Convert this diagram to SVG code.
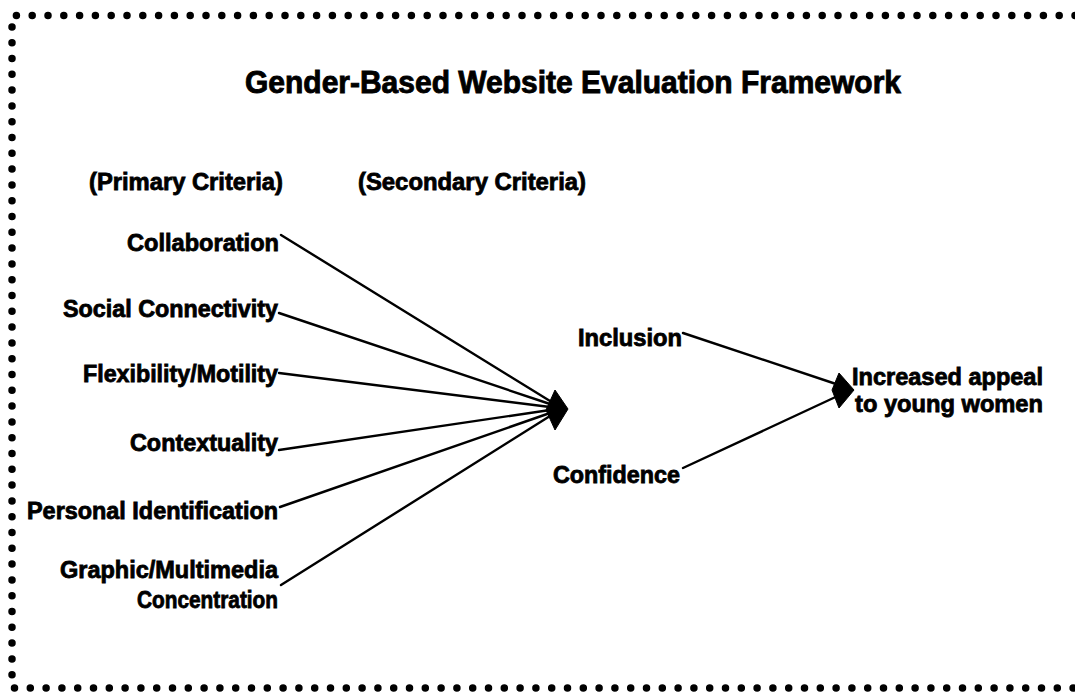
<svg xmlns="http://www.w3.org/2000/svg" width="1075" height="692" viewBox="0 0 1075 692">
  <style>
    .bg { fill: #ffffff; }
    .frame { fill: none; stroke: #000; stroke-width: 7.5; stroke-linecap: round; stroke-dasharray: 0 15.8; }
    .lbl { font-family: "Liberation Sans", Arial, sans-serif; font-weight: bold; font-size: 23px; fill: #000; stroke: #000; stroke-width: 0.8; }
    .title { font-size: 31px; stroke-width: 0.9; }
    .edge { fill: none; stroke: #000; stroke-width: 2.4; stroke-linecap: round; }
    .head { fill: #000; stroke: #000; stroke-width: 1; stroke-linejoin: round; }
  </style>

  <rect class="bg" x="0" y="0" width="1075" height="692"/>

  <!-- dotted frame (open on the right) -->
  <g id="frame">
    <path class="frame" d="M1075 15.5 H12 V688 H1075"/>
  </g>

  <g id="title">
    <text class="lbl title" x="573" y="93" text-anchor="middle" textLength="656" lengthAdjust="spacingAndGlyphs">Gender-Based Website Evaluation Framework</text>
  </g>

  <g id="headings">
    <text class="lbl" x="89" y="190" textLength="194" lengthAdjust="spacingAndGlyphs">(Primary Criteria)</text>
    <text class="lbl" x="358" y="190" textLength="228" lengthAdjust="spacingAndGlyphs">(Secondary Criteria)</text>
  </g>

  <!-- connectors -->
  <g id="connectors">
    <line class="edge" x1="281" y1="235" x2="550" y2="401"/>
    <line class="edge" x1="279" y1="313" x2="550" y2="404"/>
    <line class="edge" x1="279" y1="373" x2="550" y2="407"/>
    <line class="edge" x1="279" y1="450" x2="550" y2="410"/>
    <line class="edge" x1="280" y1="507" x2="550" y2="413"/>
    <line class="edge" x1="281" y1="585" x2="550" y2="416"/>
    <polygon class="head" points="546,410 555,390 568,409 555,430"/>

    <line class="edge" x1="683" y1="333" x2="842" y2="386"/>
    <line class="edge" x1="683" y1="468" x2="842" y2="394"/>
    <polygon class="head" points="832,390 839,373 854,390 839,408"/>
  </g>

  <!-- primary criteria -->
  <g id="collaboration">
    <text class="lbl" x="279" y="251" text-anchor="end" textLength="152" lengthAdjust="spacingAndGlyphs">Collaboration</text>
  </g>
  <g id="social-connectivity">
    <text class="lbl" x="278" y="317" text-anchor="end" textLength="215" lengthAdjust="spacingAndGlyphs">Social Connectivity</text>
  </g>
  <g id="flexibility-motility">
    <text class="lbl" x="278" y="382" text-anchor="end" textLength="195" lengthAdjust="spacingAndGlyphs">Flexibility/Motility</text>
  </g>
  <g id="contextuality">
    <text class="lbl" x="278" y="451" text-anchor="end" textLength="148" lengthAdjust="spacingAndGlyphs">Contextuality</text>
  </g>
  <g id="personal-identification">
    <text class="lbl" x="278" y="519" text-anchor="end" textLength="251" lengthAdjust="spacingAndGlyphs">Personal Identification</text>
  </g>
  <g id="graphic-multimedia">
    <text class="lbl" x="278" y="578" text-anchor="end" textLength="218" lengthAdjust="spacingAndGlyphs">Graphic/Multimedia</text>
    <text class="lbl" x="278" y="608" text-anchor="end" textLength="141" lengthAdjust="spacingAndGlyphs">Concentration</text>
  </g>

  <!-- secondary criteria -->
  <g id="inclusion">
    <text class="lbl" x="578" y="346" textLength="104" lengthAdjust="spacingAndGlyphs">Inclusion</text>
  </g>
  <g id="confidence">
    <text class="lbl" x="553" y="483" textLength="127" lengthAdjust="spacingAndGlyphs">Confidence</text>
  </g>

  <!-- outcome -->
  <g id="outcome">
    <text class="lbl" x="852" y="385" textLength="191" lengthAdjust="spacingAndGlyphs">Increased appeal</text>
    <text class="lbl" x="855" y="412" textLength="188" lengthAdjust="spacingAndGlyphs">to young women</text>
  </g>
</svg>
